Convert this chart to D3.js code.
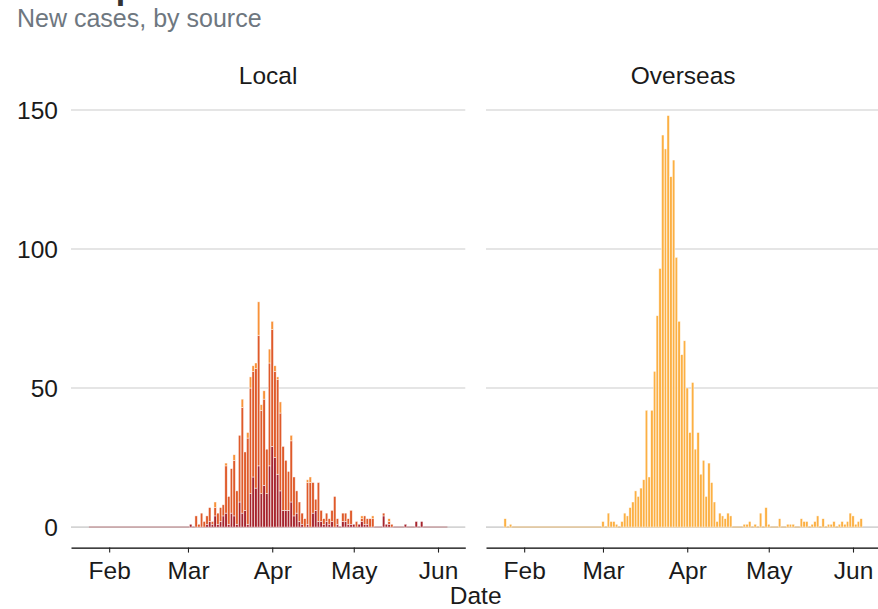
<!DOCTYPE html>
<html><head><meta charset="utf-8">
<script src="https://cdn.jsdelivr.net/npm/d3@7"></script>
<style>
html,body{margin:0;padding:0;background:#fff;}
svg{display:block;font-family:"Liberation Sans",Arial,Helvetica,sans-serif;}
</style></head><body>
<svg id="chart" width="878" height="609"></svg>
<script>
// ---------------- data ----------------
const titleText = "NSW epidemic curve";
const subtitleText = "New cases, by source";
const xTitle = "Date";
const panels = ["Local", "Overseas"];
const firstDay = "2020-01-25";           // first day of the daily series (Jan 25 .. Jun 4)
const monthTicks = ["2020-02-01", "2020-03-01", "2020-04-01", "2020-05-01", "2020-06-01"];
const monthLabels = ["Feb", "Mar", "Apr", "May", "Jun"];
const yTicks = [0, 50, 100, 150];
const localKeys = ["Locally acquired – source not identified", "Locally acquired – contact of a confirmed case", "Under investigation"];

// Local, bottom segment (dark red)
const localUnknown = [
  0,0,0,0,0,0,0,
  0,0,0,0,0,0,0,0,0,0,0,0,0,0,0,0,0,0,0,0,0,0,0,0,0,0,0,0,0,
  0,1,0,0,0,0,0,1,2,1, 4,1,2,4,5,1,5,4,1,9, 5,6,1,12,18,14,22,12,15,12, 22,
  29,25,19,13,6,6,6,9,4,5, 2,1,0,1,0,5,6,2,2,1, 2,1,2,0,1,0,2,2,1,1,
  1,0,1,2,1,1,0,0,0,0, 0,4,1,1,0,0,0,0,0,1, 0,0,0,2,0,2,0,0,0,0, 0,
  0,0,0,0
];
// Local, middle segment (orange-red)
const localContact = [
  0,0,0,0,0,0,0,
  0,0,0,0,0,0,0,0,0,0,0,0,0,0,0,0,0,0,0,0,0,0,0,0,0,0,0,0,0,
  0,0,0,4,1,5,2,3,5,1, 3,4,5,4,17,10,16,20,12,24, 38,21,31,38,38,43,47,30,31,16, 37,
  42,31,34,28,23,18,14,22,14,8, 7,4,3,15,16,11,4,14,4,2, 3,2,4,11,2,0,3,3,2,5,
  0,2,0,1,3,2,3,3,0,0, 0,1,0,1,1,0,0,0,0,0, 0,0,0,0,0,0,0,0,0,0, 0,
  0,0,0,0
];
// Local, top segment (orange)
const localInvestigation = [
  0,0,0,0,0,0,0,
  0,0,0,0,0,0,0,0,0,0,0,0,0,0,0,0,0,0,0,0,0,0,0,0,0,0,0,0,0,
  0,0,0,0,0,0,0,0,0,0, 2,0,0,0,1,0,0,2,0,0, 3,0,2,4,2,2,12,2,3,0, 5,
  3,2,1,4,0,0,0,2,0,0, 0,0,0,1,2,0,0,0,0,0, 0,0,0,0,0,0,0,0,0,0,
  0,0,0,1,0,0,0,1,0,0, 0,0,0,1,0,0,0,0,0,0, 0,0,0,0,0,0,0,0,0,0, 0,
  0,0,0,0
];
// Overseas
const overseas = [
  3,0,1,0,0,0,0,
  0,0,0,0,0,0,0,0,0,0,0,0,0,0,0,0,0,0,0,0,0,0,0,0,0,0,0,0,0,
  2,0,5,2,2,1,0,2,5,4, 7,9,13,11,14,17,42,18,42,56, 76,93,141,136,148,126,132,97,74,62, 67,
  50,34,52,28,34,19,24,11,23,16, 9,2,5,4,3,5,4,0,0,0, 0,1,1,2,0,1,0,5,0,7,
  1,0,0,0,3,0,0,1,1,1, 0,0,3,2,2,0,1,2,4,0, 3,0,1,1,2,0,1,2,1,2, 5,
  4,1,2,3
];

// ---------------- styles ----------------
const localColors = ["#a6232c", "#df5a2a", "#f8923a"];
const overseasColor = "#fcb043";

// ---------------- layout ----------------
const svg = d3.select("#chart");
const panelLeft = [71, 486];
const panelW = 394.3;
const panelTop = 95, panelBottom = 547.6;

const parse = d3.utcParse("%Y-%m-%d");
const start = parse(firstDay);
const dates = d3.utcDay.range(start, d3.utcDay.offset(start, overseas.length));
const DAY = 864e5;
const lo = +dates[0] - 0.45 * DAY, hi = +dates[dates.length - 1] + 0.45 * DAY;
const pad = 0.05 * (hi - lo);
const x = d3.scaleUtc().domain([new Date(lo - pad), new Date(hi + pad)]).range([0, panelW]);

const yMax = d3.max(overseas.concat(localUnknown.map((v, i) => v + localContact[i] + localInvestigation[i])));
const ypad = 0.05 * yMax;
const y = d3.scaleLinear().domain([-ypad, yMax + ypad]).range([panelBottom, panelTop]);

const dayW = x(new Date(+start + DAY)) - x(start);
const bw = dayW * 0.9;

const rows = dates.map((d, i) => ({
  date: d,
  [localKeys[0]]: localUnknown[i],
  [localKeys[1]]: localContact[i],
  [localKeys[2]]: localInvestigation[i]
}));
const stacked = d3.stack().keys(localKeys)(rows);

// title (cropped at the top edge, as in the reference)
svg.append("text").attr("x", 8).attr("y", -1.5)
  .attr("font-size", 34).attr("font-weight", "bold").attr("fill", "#333")
  .text(titleText);
svg.append("text").attr("x", 17).attr("y", 27)
  .attr("font-size", 25).attr("fill", "#6e7780")
  .text(subtitleText);

panels.forEach((name, pi) => {
  const g = svg.append("g").attr("transform", `translate(${panelLeft[pi]},0)`);

  // strip label
  g.append("text").attr("x", panelW / 2).attr("y", 83.5)
    .attr("text-anchor", "middle").attr("font-size", 24.5).attr("fill", "#1a1a1a")
    .text(name);

  // gridlines
  g.selectAll("line.grid").data(yTicks).join("line").attr("class", "grid")
    .attr("x1", 0).attr("x2", panelW)
    .attr("y1", d => y(d)).attr("y2", d => y(d))
    .attr("stroke", d => d === 0 ? "#d4d4d4" : "#cccccc")
    .attr("stroke-width", d => d === 0 ? 1.8 : 1.1);

  // faint baseline over the data period
  g.append("line")
    .attr("x1", x(dates[0]) - bw / 2).attr("x2", x(dates[dates.length - 1]) + bw / 2)
    .attr("y1", y(0)).attr("y2", y(0))
    .attr("stroke", pi === 0 ? localColors[0] : overseasColor)
    .attr("stroke-opacity", pi === 0 ? 0.45 : 0.6).attr("stroke-width", 1);

  if (pi === 0) {
    g.selectAll("g.layer").data(stacked).join("g").attr("class", "layer")
      .attr("fill", (d, i) => localColors[i])
      .selectAll("rect").data(d => d.filter(s => s[1] - s[0] > 0)).join("rect")
      .attr("x", d => x(d.data.date) - bw / 2)
      .attr("width", bw)
      .attr("y", d => y(d[1]))
      .attr("height", d => y(d[0]) - y(d[1]))
      .attr("stroke", "#fff").attr("stroke-width", 0.6).attr("stroke-opacity", 0.75);
  } else {
    const od = dates.map((d, i) => ({ date: d, v: overseas[i] })).filter(d => d.v > 0);
    g.selectAll("rect.bar").data(od).join("rect").attr("class", "bar")
      .attr("x", d => x(d.date) - bw / 2)
      .attr("width", bw)
      .attr("y", d => y(d.v))
      .attr("height", d => y(0) - y(d.v))
      .attr("fill", overseasColor)
      .attr("stroke", "#fff").attr("stroke-width", 0.6).attr("stroke-opacity", 0.75);
  }

  // x axis
  const ax = g.append("g").attr("transform", `translate(0,${panelBottom})`)
    .call(d3.axisBottom(x)
      .tickValues(monthTicks.map(parse))
      .tickFormat((d, i) => monthLabels[i])
      .tickSizeInner(5).tickSizeOuter(0).tickPadding(8));
  ax.select(".domain").attr("stroke", "#000").attr("stroke-width", 1.1);
  ax.selectAll(".tick line").attr("stroke", "#222").attr("stroke-width", 1.1);
  ax.selectAll(".tick text").attr("font-size", 24.5).attr("fill", "#1a1a1a")
    .attr("font-family", "Liberation Sans, Arial, sans-serif")
    .attr("dy", null).attr("y", 31);

  // y labels (left panel only)
  if (pi === 0) {
    g.selectAll("text.ylab").data(yTicks).join("text").attr("class", "ylab")
      .attr("x", -13).attr("y", d => y(d) + 8.7)
      .attr("text-anchor", "end").attr("font-size", 24.5).attr("fill", "#1a1a1a")
      .text(d => d);
  }
});

// x axis title
svg.append("text")
  .attr("x", (panelLeft[0] + panelLeft[1] + panelW) / 2).attr("y", 603.5)
  .attr("text-anchor", "middle").attr("font-size", 24.5).attr("fill", "#1a1a1a")
  .text(xTitle);
</script>
</body></html>
